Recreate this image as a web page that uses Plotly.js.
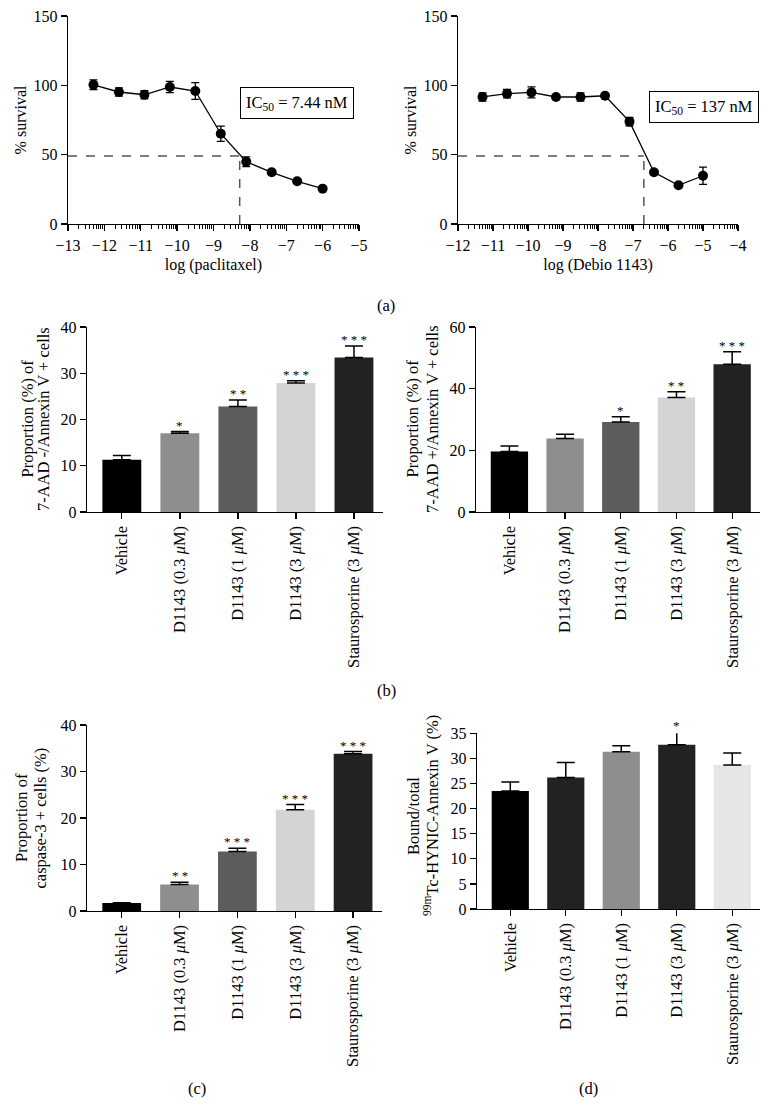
<!DOCTYPE html>
<html><head><meta charset="utf-8">
<script src="https://cdn.plot.ly/plotly-3.0.1.min.js"></script>
<style>html,body{margin:0;padding:0;background:#fff}#chart{width:772px;height:1120px}</style>
</head><body><div id="chart"></div>
<script>
// ---------- Panel (a): dose-response ----------
const paclitaxelLogConc = [-12.3, -11.6, -10.9, -10.2, -9.5, -8.8, -8.1, -7.4, -6.7, -6.0];
const paclitaxelSurvival = [100.4, 95.2, 93.2, 98.8, 95.9, 65.1, 44.9, 37.3, 30.8, 25.5];
const paclitaxelErr = [3.5, 3.0, 3.0, 4.0, 6.0, 5.5, 3.5, 1.5, 1.0, 1.0];
const paclitaxelIC50Log = -8.28;
const paclitaxelIC50Label = 'IC<sub>50</sub> = 7.44 nM';

const debioLogConc = [-11.3, -10.6, -9.9, -9.2, -8.5, -7.8, -7.1, -6.4, -5.7, -5.0];
const debioSurvival = [91.6, 94.0, 94.9, 91.6, 91.6, 92.5, 73.8, 37.3, 27.9, 34.8];
const debioErr = [3.0, 3.0, 4.0, 1.5, 3.0, 1.5, 3.0, 1.0, 1.0, 6.2];
const debioIC50Log = -6.69;
const debioIC50Label = 'IC<sub>50</sub> = 137 nM';
const halfSurvival = 49;

// ---------- Bar panels ----------
const categories = ['Vehicle', 'D1143 (0.3 <i>μ</i>M)', 'D1143 (1 <i>μ</i>M)', 'D1143 (3 <i>μ</i>M)', 'Staurosporine (3 <i>μ</i>M)'];

const aadNegValues = [11.3, 17.0, 22.8, 27.9, 33.4];
const aadNegErr = [0.9, 0.4, 1.4, 0.5, 2.5];
const aadNegSig = ['', '*', '**', '***', '***'];

const aadPosValues = [19.6, 23.8, 29.2, 37.1, 47.9];
const aadPosErr = [1.8, 1.4, 1.7, 1.9, 4.1];
const aadPosSig = ['', '', '*', '**', '***'];

const caspaseValues = [1.7, 5.7, 12.8, 21.8, 33.8];
const caspaseErr = [0.1, 0.5, 0.7, 1.1, 0.5];
const caspaseSig = ['', '**', '***', '***', '***'];

const boundValues = [23.5, 26.2, 31.3, 32.7, 28.7];
const boundErr = [1.8, 3.0, 1.2, 2.6, 2.4];
const boundSig = ['', '', '', '*', ''];

const colorsBC = ['#000000', '#8e8e8e', '#5c5c5c', '#d4d4d4', '#222222'];
const colorsD = ['#000000', '#222222', '#8e8e8e', '#222222', '#e6e6e6'];

const FONT = "'Liberation Serif', 'Times New Roman', serif";
const W = 772, H = 1120;
function px(x){ return x / W; }
function py(y){ return 1 - y / H; }

const traces = [];
function curve(x, y, e, ax) {
  traces.push({
    type: 'scatter', mode: 'lines+markers', x: x, y: y,
    xaxis: 'x' + ax, yaxis: 'y' + ax,
    line: {color: '#000', width: 1.3},
    marker: {color: '#000', size: 10, symbol: 'circle'},
    error_y: {type: 'data', array: e, visible: true, color: '#000', thickness: 1.3, width: 4},
    showlegend: false, hoverinfo: 'skip'
  });
}
curve(paclitaxelLogConc, paclitaxelSurvival, paclitaxelErr, '');
curve(debioLogConc, debioSurvival, debioErr, '2');

function bars(vals, errs, colors, ax) {
  traces.push({
    type: 'bar', x: categories, y: vals, width: 0.67,
    xaxis: 'x' + ax, yaxis: 'y' + ax, cliponaxis: false,
    marker: {color: colors, line: {width: 0}},
    error_y: {type: 'data', symmetric: false, array: errs, arrayminus: errs.map(() => 0),
              visible: true, color: '#000', thickness: 1.5, width: 9},
    showlegend: false, hoverinfo: 'skip'
  });
}
bars(aadNegValues, aadNegErr, colorsBC, '3');
bars(aadPosValues, aadPosErr, colorsBC, '4');
bars(caspaseValues, caspaseErr, colorsBC, '5');
bars(boundValues, boundErr, colorsD, '6');

const base = {
  showline: true, linecolor: '#000', linewidth: 1.3, ticks: 'outside', tickcolor: '#000',
  tickwidth: 1.3, ticklen: 6, showgrid: false, zeroline: false, fixedrange: true,
  tickfont: {family: FONT, size: 16, color: '#000'}
};
function ax(extra) { return Object.assign({}, base, extra); }
const tfont = {family: FONT, size: 16, color: '#000'};
const catFont = {family: FONT, size: 16.5, color: '#000'};

function minorLog(lo, hi) {
  const v = [];
  for (let d = lo; d < hi; d++) for (let k = 2; k <= 9; k++) v.push(d + Math.log10(k));
  return v;
}
function intRange(lo, hi) { const v = []; for (let i = lo; i <= hi; i++) v.push(i); return v; }

const yA = [224, 16], yB = [512, 327], yC = [911, 725], yD = [909, 733.3];

const layout = {
  width: W, height: H, margin: {l: 0, r: 0, t: 0, b: 0},
  paper_bgcolor: '#fff', plot_bgcolor: 'rgba(0,0,0,0)', showlegend: false,
  font: {family: FONT, color: '#000'},
  xaxis: ax({domain: [px(68), px(359)], anchor: 'y', range: [-13, -5], tickmode: 'array', tickvals: intRange(-13, -5),
    minor: {tickmode: 'array', tickvals: minorLog(-13, -5), ticks: 'outside', ticklen: 3.5, tickcolor: '#000', tickwidth: 1},
    title: {text: 'log (paclitaxel)', font: tfont, standoff: 6}}),
  yaxis: ax({domain: [py(yA[0]), py(yA[1])], anchor: 'x', range: [0, 150], tickmode: 'array', tickvals: [0, 50, 100, 150],
    title: {text: '% survival', font: tfont, standoff: 3}}),
  xaxis2: ax({domain: [px(458), px(738)], anchor: 'y2', range: [-12, -4], tickmode: 'array', tickvals: intRange(-12, -4),
    minor: {tickmode: 'array', tickvals: minorLog(-12, -4), ticks: 'outside', ticklen: 3.5, tickcolor: '#000', tickwidth: 1},
    title: {text: 'log (Debio 1143)', font: tfont, standoff: 6}}),
  yaxis2: ax({domain: [py(yA[0]), py(yA[1])], anchor: 'x2', range: [0, 150], tickmode: 'array', tickvals: [0, 50, 100, 150],
    title: {text: '% survival', font: tfont, standoff: 3}}),

  xaxis3: ax({domain: [px(87), px(383)], anchor: 'y3', type: 'category', range: [-0.6, 4.5], tickangle: -90, tickfont: catFont}),
  yaxis3: ax({domain: [py(yB[0]), py(yB[1])], anchor: 'x3', range: [0, 40], tickmode: 'array', tickvals: [0, 10, 20, 30, 40]}),
  xaxis4: ax({domain: [px(476), px(760)], anchor: 'y4', type: 'category', range: [-0.6, 4.5], tickangle: -90, tickfont: catFont}),
  yaxis4: ax({domain: [py(yB[0]), py(yB[1])], anchor: 'x4', range: [0, 60], tickmode: 'array', tickvals: [0, 20, 40, 60]}),
  xaxis5: ax({domain: [px(87), px(382)], anchor: 'y5', type: 'category', range: [-0.6, 4.5], tickangle: -90, tickfont: catFont}),
  yaxis5: ax({domain: [py(yC[0]), py(yC[1])], anchor: 'x5', range: [0, 40], tickmode: 'array', tickvals: [0, 10, 20, 30, 40]}),
  xaxis6: ax({domain: [px(477), px(760)], anchor: 'y6', type: 'category', range: [-0.6, 4.5], tickangle: -90, tickfont: catFont}),
  yaxis6: ax({domain: [py(yD[0]), py(yD[1])], anchor: 'x6', range: [0, 35], tickmode: 'array', tickvals: [0, 5, 10, 15, 20, 25, 30, 35]}),

  shapes: [
    {type: 'line', xref: 'x', yref: 'y', x0: -13, x1: paclitaxelIC50Log, y0: halfSurvival, y1: halfSurvival, line: {color: '#555', width: 1.5, dash: 'dash'}},
    {type: 'line', xref: 'x', yref: 'y', x0: paclitaxelIC50Log, x1: paclitaxelIC50Log, y0: 0, y1: halfSurvival, line: {color: '#555', width: 1.5, dash: 'dash'}},
    {type: 'line', xref: 'x2', yref: 'y2', x0: -12, x1: debioIC50Log, y0: halfSurvival, y1: halfSurvival, line: {color: '#555', width: 1.5, dash: 'dash'}},
    {type: 'line', xref: 'x2', yref: 'y2', x0: debioIC50Log, x1: debioIC50Log, y0: 0, y1: halfSurvival, line: {color: '#555', width: 1.5, dash: 'dash'}}
  ],
  annotations: [
    {xref: 'x domain', yref: 'y domain', x: 0.788, y: 0.582, xanchor: 'center', yanchor: 'middle', text: paclitaxelIC50Label, showarrow: false,
     font: {family: FONT, size: 16.5, color: '#000'}, bordercolor: '#000', borderwidth: 1, borderpad: 5, bgcolor: '#fff'},
    {xref: 'x2 domain', yref: 'y2 domain', x: 0.879, y: 0.564, xanchor: 'center', yanchor: 'middle', text: debioIC50Label, showarrow: false,
     font: {family: FONT, size: 16.5, color: '#000'}, bordercolor: '#000', borderwidth: 1, borderpad: 5, bgcolor: '#fff'}
  ]
};

function plain(text, x, y, extra) {
  layout.annotations.push(Object.assign({xref: 'paper', yref: 'paper', x: px(x), y: py(y), xanchor: 'center', yanchor: 'middle',
    text: text, showarrow: false, font: {family: FONT, size: 16.5, color: '#000'}}, extra || {}));
}
plain('(a)', 386, 305);
plain('(b)', 386, 690);
plain('(c)', 197, 1088);
plain('(d)', 588, 1088);

// y-axis titles of the bar panels (two tight lines, as in the reference)
const ttl = {textangle: -90, font: {family: FONT, size: 16.5, color: '#000'}};
plain('Proportion (%) of', 26.5, 419, ttl);
plain('7-AAD -/Annexin V + cells', 43, 419, ttl);
plain('Proportion (%) of', 411.5, 419, ttl);
plain('7-AAD +/Annexin V + cells', 432, 419, ttl);
plain('Proportion of', 21, 818, ttl);
plain('caspase-3 + cells (%)', 39.5, 818, ttl);
plain('Bound/total', 413, 816, ttl);
plain('<sup>99m</sup>Tc-HYNIC-Annexin V (%)', 431, 816, ttl);

function sigMarks(vals, errs, sig, axn, ymax) {
  sig.forEach((s, i) => {
    if (!s) return;
    layout.annotations.push({
      xref: 'x' + axn, yref: 'y' + axn + ' domain', x: i, y: (vals[i] + errs[i]) / ymax, yanchor: 'bottom', yshift: -3,
      text: s.split('').join(' '), showarrow: false, font: {family: FONT, size: 13, color: '#000'}
    });
  });
}
sigMarks(aadNegValues, aadNegErr, aadNegSig, '3', 40);
sigMarks(aadPosValues, aadPosErr, aadPosSig, '4', 60);
sigMarks(caspaseValues, caspaseErr, caspaseSig, '5', 40);
sigMarks(boundValues, boundErr, boundSig, '6', 35);

Plotly.newPlot('chart', traces, layout, {staticPlot: true, displayModeBar: false});
</script>
</body></html>
